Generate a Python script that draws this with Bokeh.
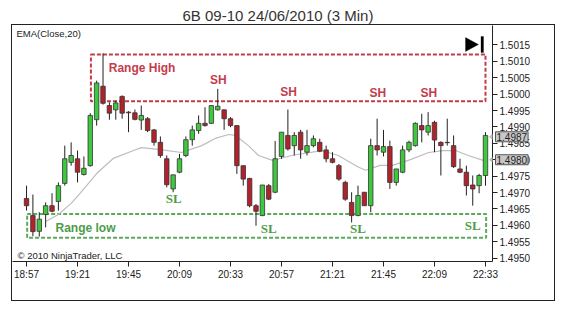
from bokeh.plotting import figure
from bokeh.models import (Range1d, FixedTicker, Label, BoxAnnotation, PolyAnnotation,
                          NumeralTickFormatter, InlineStyleSheet)
from bokeh.embed import file_html
from bokeh.resources import INLINE
from bokeh.core.properties import value

# ---------------- data ----------------
title_text = "6B 09-10  24/06/2010 (3 Min)"
time_labels = ["18:57", "19:21", "19:45", "20:09", "20:33", "20:57", "21:21", "21:45", "22:09", "22:33"]
time_label_bars = [0, 8, 16, 24, 32, 40, 48, 56, 64, 72]
price_ticks = [1.4950, 1.4955, 1.4960, 1.4965, 1.4970, 1.4975, 1.4980, 1.4985,
               1.4990, 1.4995, 1.5000, 1.5005, 1.5010, 1.5015]

opens = [1.49682, 1.49630, 1.49582, 1.49633, 1.49660, 1.49673, 1.49728, 1.49792, 1.49803, 1.49755,
         1.49782, 1.49922, 1.50024, 1.49965, 1.49952, 1.49993, 1.49945, 1.49943, 1.49921, 1.49925,
         1.49891, 1.49853, 1.49803, 1.49711, 1.49762, 1.49813, 1.49861, 1.49889, 1.49911, 1.49911,
         1.49952, 1.49952, 1.49925, 1.49904, 1.49782, 1.49743, 1.49660, 1.49630, 1.49721, 1.49701,
         1.49810, 1.49874, 1.49843, 1.49884, 1.49823, 1.49843, 1.49853, 1.49830, 1.49803, 1.49782,
         1.49731, 1.49670, 1.49630, 1.49701, 1.49660, 1.49843, 1.49823, 1.49840, 1.49731, 1.49762,
         1.49830, 1.49843, 1.49904, 1.49884, 1.49914, 1.49853, 1.49853, 1.49843, 1.49772, 1.49762,
         1.49723, 1.49721, 1.49752]
highs = [1.49721, 1.49694, 1.49640, 1.49670, 1.49698, 1.49731, 1.49843, 1.49853, 1.49828, 1.49810,
         1.49942, 1.50041, 1.50124, 1.49975, 1.49980, 1.49996, 1.49948, 1.49953, 1.49965, 1.49930,
         1.49894, 1.49871, 1.49813, 1.49754, 1.49818, 1.49871, 1.49904, 1.49935, 1.49960, 1.49965,
         1.50016, 1.49952, 1.49930, 1.49904, 1.49782, 1.49745, 1.49665, 1.49723, 1.49726, 1.49857,
         1.49884, 1.49953, 1.49884, 1.49891, 1.49891, 1.49874, 1.49864, 1.49843, 1.49823, 1.49787,
         1.49736, 1.49701, 1.49721, 1.49701, 1.49864, 1.49925, 1.49891, 1.49858, 1.49772, 1.49843,
         1.49858, 1.49914, 1.49940, 1.49945, 1.49919, 1.49856, 1.49925, 1.49874, 1.49803, 1.49782,
         1.49752, 1.49757, 1.49884]
lows = [1.49645, 1.49567, 1.49566, 1.49594, 1.49640, 1.49645, 1.49721, 1.49782, 1.49731, 1.49752,
        1.49779, 1.49904, 1.49968, 1.49922, 1.49922, 1.49925, 1.49884, 1.49920, 1.49891, 1.49884,
        1.49843, 1.49806, 1.49716, 1.49701, 1.49759, 1.49808, 1.49843, 1.49879, 1.49901, 1.49909,
        1.49950, 1.49891, 1.49899, 1.49757, 1.49721, 1.49655, 1.49599, 1.49628, 1.49677, 1.49698,
        1.49803, 1.49828, 1.49813, 1.49803, 1.49813, 1.49838, 1.49823, 1.49792, 1.49789, 1.49736,
        1.49675, 1.49609, 1.49628, 1.49660, 1.49640, 1.49813, 1.49810, 1.49711, 1.49721, 1.49759,
        1.49823, 1.49840, 1.49853, 1.49874, 1.49823, 1.49752, 1.49843, 1.49775, 1.49759, 1.49691,
        1.49660, 1.49698, 1.49721]
closes = [1.49660, 1.49581, 1.49619, 1.49660, 1.49643, 1.49721, 1.49803, 1.49813, 1.49762, 1.49774,
          1.49935, 1.50034, 1.49972, 1.49942, 1.49973, 1.49942, 1.49943, 1.49923, 1.49935, 1.49889,
          1.49853, 1.49813, 1.49724, 1.49754, 1.49803, 1.49861, 1.49891, 1.49911, 1.49904, 1.49965,
          1.49963, 1.49925, 1.49904, 1.49782, 1.49741, 1.49660, 1.49643, 1.49723, 1.49680, 1.49803,
          1.49884, 1.49833, 1.49874, 1.49830, 1.49843, 1.49864, 1.49826, 1.49803, 1.49792, 1.49741,
          1.49680, 1.49630, 1.49691, 1.49660, 1.49843, 1.49830, 1.49840, 1.49731, 1.49772, 1.49830,
          1.49853, 1.49911, 1.49891, 1.49904, 1.49860, 1.49843, 1.49852, 1.49779, 1.49762, 1.49721,
          1.49711, 1.49752, 1.49874]

ema_bars = [3, 5, 7, 8.5, 11, 13.6, 16.8, 18, 21, 24.3, 27.5, 29.6, 31.7, 32.8, 34.8, 36.4, 38.6,
            41.6, 46.3, 48.9, 52.1, 53.2, 55.5, 57.4, 59.9, 63.1, 65.3, 67.3, 69.3, 72]
ema_values = [1.49612, 1.49633, 1.49667, 1.49700, 1.49758, 1.49804, 1.49828, 1.49837, 1.49831,
              1.49822, 1.49843, 1.49865, 1.49877, 1.49874, 1.49843, 1.49813, 1.49798, 1.49813,
              1.49828, 1.49813, 1.49777, 1.49768, 1.49783, 1.49783, 1.49798, 1.49822, 1.49828,
              1.49828, 1.49813, 1.49796]

sh_bars = [30.1, 41.1, 55.1, 63.1]
sh_prices = [1.50042, 1.50006, 1.50003, 1.50003]
sl_bars = [23.1, 38.0, 52.0, 70.0]
sl_prices = [1.49681, 1.49590, 1.49590, 1.49601]

range_high = [1.50121, 1.49978]   # top, bottom
range_high_bars = [10.1, 72.0]
range_low = [1.49635, 1.49562]
range_low_bars = [0.1, 72.1]

last_close = 1.4987
last_ema = 1.4980

# ---------------- figure ----------------
W, H = 565, 312
box_css = InlineStyleSheet(css="""
:host { position: relative; }
:host::after { content: ""; position: absolute; left: 11px; top: 24px; width: 544px;
  height: 277px; border: 1px solid #222222; box-sizing: border-box; pointer-events: none; }
""")
p = figure(width=W, height=H, x_range=Range1d(-2.2, 73.1), y_range=Range1d(1.49490, 1.50209),
           y_axis_location="right", toolbar_location=None, output_backend="svg",
           min_border_left=12, min_border_right=73, min_border_top=25, min_border_bottom=51,
           stylesheets=[box_css])
p.background_fill_color = "white"
p.border_fill_color = "white"
p.outline_line_color = None
p.xgrid.visible = False
p.ygrid.visible = False

FONT = "Liberation Sans"
p.title.text = title_text
p.title.text_font = FONT
p.title.text_font_size = "15px"
p.title.text_font_style = "normal"
p.title.text_color = "#333333"
p.title.align = "left"
p.title.offset = 170
p.title.standoff = 4

xa = p.xaxis[0]
xa.ticker = FixedTicker(ticks=time_label_bars)
xa.major_label_overrides = {b: t for b, t in zip(time_label_bars, time_labels)}
xa.major_tick_in = 0
xa.major_tick_out = 5
xa.minor_tick_line_color = None
xa.axis_line_color = "#222222"
xa.major_tick_line_color = "#222222"
xa.major_label_text_font = FONT
xa.major_label_text_font_size = "10px"
xa.major_label_text_color = "#222222"
xa.major_label_standoff = 2

ya = p.yaxis[0]
ya.ticker = FixedTicker(ticks=price_ticks)
ya.formatter = NumeralTickFormatter(format="0.0000")
ya.major_tick_in = 0
ya.major_tick_out = 5
ya.minor_tick_line_color = None
ya.axis_line_color = "#222222"
ya.major_tick_line_color = "#222222"
ya.major_label_text_font = FONT
ya.major_label_text_font_size = "10px"
ya.major_label_text_color = "#222222"
ya.major_label_standoff = 2

RED = "#c43c4b"
GREEN = "#4a9c4a"

# range boxes
p.quad(left=[range_high_bars[0]], right=[range_high_bars[1]], top=[range_high[0]],
       bottom=[range_high[1]], fill_alpha=0, line_color=RED, line_width=2, line_dash="4 2")
p.quad(left=[range_low_bars[0]], right=[range_low_bars[1]], top=[range_low[0]],
       bottom=[range_low[1]], fill_alpha=0, line_color="#5aaa5a", line_width=2, line_dash="4 2")

# EMA
p.line(ema_bars, ema_values, line_color="#bdbdbd", line_width=1.2)

# candles
idx = list(range(len(opens)))
p.segment(x0=idx, y0=lows, x1=idx, y1=highs, line_color="#222222", line_width=1)
tops = [max(o, c) for o, c in zip(opens, closes)]
bots = [min(o, c) for o, c in zip(opens, closes)]
fills = ["#3ec83e" if c > o else "#b3222b" for o, c in zip(opens, closes)]
p.vbar(x=idx, width=0.7, top=tops, bottom=bots, fill_color=fills, line_color="#333333",
       line_width=0.8)

# text annotations
p.text(x=[range_high_bars[0] + 2.8], y=[1.50078], text=["Range High"], text_color=RED,
       text_font=value(FONT), text_font_size="12px", text_font_style="bold",
       text_baseline="middle", text_align="left")
p.text(x=[range_low_bars[0] + 4.45], y=[1.49593], text=["Range low"], text_color=GREEN,
       text_font=value(FONT), text_font_size="12px", text_font_style="bold",
       text_baseline="middle", text_align="left")
p.text(x=sh_bars, y=sh_prices, text=["SH"] * len(sh_bars), text_color=RED,
       text_font=value(FONT), text_font_size="12px", text_font_style="bold",
       text_baseline="middle", text_align="center")
p.text(x=sl_bars, y=sl_prices, text=["SL"] * len(sl_bars), text_color=GREEN,
       text_font=value("Liberation Serif"), text_font_size="13px", text_font_style="bold",
       text_baseline="middle", text_align="center")

# frame-relative screen decorations (origin: frame bottom-left, y up)
FH = 236  # frame height in px
p.add_layout(Label(x=4, y=FH - 8, x_units="screen", y_units="screen", text="EMA(Close,20)",
                   text_font=FONT, text_font_size="9.5px", text_color="#222222",
                   text_align="left", text_baseline="middle"))
p.add_layout(Label(x=5, y=6, x_units="screen", y_units="screen",
                   text="\u00a9 2010 NinjaTrader, LLC",
                   text_font=FONT, text_font_size="9.5px", text_color="#222222",
                   text_align="left", text_baseline="middle"))
p.add_layout(PolyAnnotation(xs=[453, 453, 466], ys=[FH - 12, FH - 26, FH - 19], xs_units="screen",
                            ys_units="screen", fill_color="black", fill_alpha=1,
                            line_color="black"))
p.add_layout(BoxAnnotation(left=468.5, right=471, top=FH - 11, bottom=FH - 27,
                           left_units="screen", right_units="screen", top_units="screen",
                           bottom_units="screen", fill_color="black", fill_alpha=1,
                           line_color="black"))

# last-value markers on the price axis (placed in a side panel so they are not clipped)
half = 0.00019  # half marker height, in price units
for v in (last_close, last_ema):
    p.add_layout(PolyAnnotation(xs=[477, 484, 484], ys=[v, v + half, v - half],
                                xs_units="screen", fill_color="#c8c8c8", fill_alpha=1,
                                line_color="#555555"), "below")
    p.add_layout(Label(x=483, y=v, x_units="screen", text=f"{v:.4f}", text_font=FONT,
                       text_font_size="10px", text_color="#222222", text_align="left",
                       text_baseline="middle", background_fill_color="#c8c8c8",
                       border_line_color="#555555", padding=1), "below")

open("out.html", "w").write(file_html(p, INLINE))
